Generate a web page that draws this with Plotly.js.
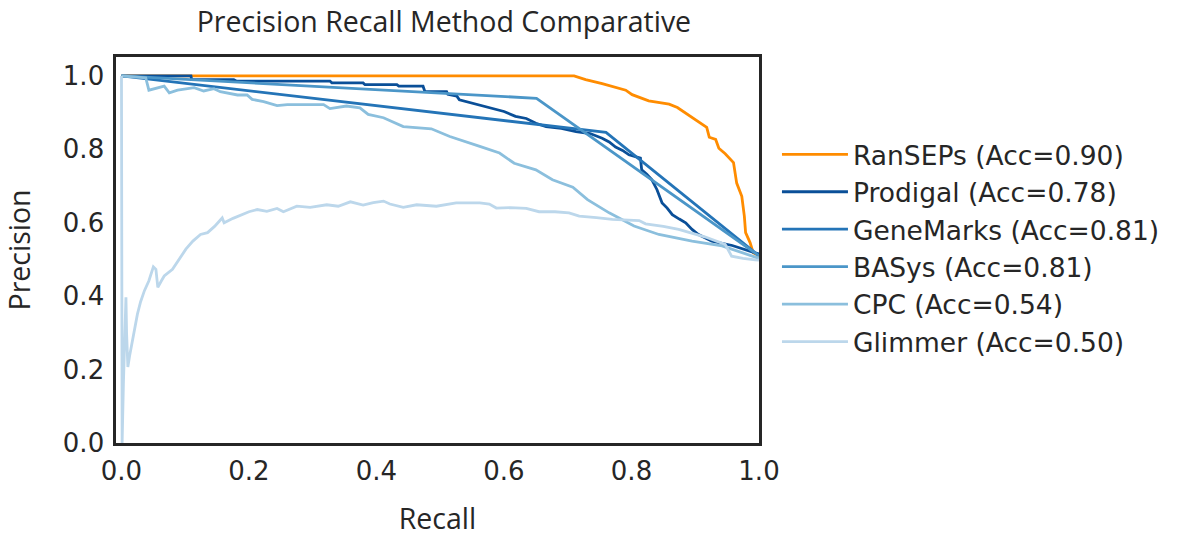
<!DOCTYPE html>
<html>
<head>
<meta charset="utf-8">
<script src="https://cdn.plot.ly/plotly-3.0.1.min.js"></script>
<style>html,body{margin:0;padding:0;background:#fff;}#chart{width:1179px;height:540px;}</style>
</head>
<body>
<div id="chart"></div>
<script>
// ---- data ----
const seriesNames = ["RanSEPs (Acc=0.90)", "Prodigal (Acc=0.78)", "GeneMarks (Acc=0.81)", "BASys (Acc=0.81)", "CPC (Acc=0.54)", "Glimmer (Acc=0.50)"];
const seriesColors = ["#ff8c00", "#0a4f98", "#2474b7", "#4b96c8", "#8bbfdd", "#bcd7eb"];

const ransepsRecall = [0, 0.71, 0.728, 0.754, 0.791, 0.801, 0.827, 0.859, 0.872, 0.890, 0.905, 0.918, 0.922, 0.932, 0.937, 0.947, 0.960, 0.965, 0.973, 0.977, 0.979, 0.986, 0.991, 1.0];
const ransepsPrecision = [1, 1, 0.990, 0.979, 0.961, 0.949, 0.932, 0.923, 0.914, 0.893, 0.875, 0.860, 0.833, 0.827, 0.803, 0.788, 0.764, 0.708, 0.672, 0.618, 0.573, 0.546, 0.518, 0.51];

const prodigalRecall = [0, 0.109, 0.11, 0.176, 0.18, 0.327, 0.33, 0.379, 0.382, 0.432, 0.435, 0.473, 0.476, 0.510, 0.512, 0.526, 0.53, 0.546, 0.565, 0.582, 0.600, 0.618, 0.635, 0.650, 0.666, 0.690, 0.713, 0.735, 0.754, 0.765, 0.775, 0.786, 0.796, 0.814, 0.816, 0.824, 0.832, 0.840, 0.848, 0.856, 0.864, 0.875, 0.885, 0.895, 0.905, 0.926, 0.958, 0.994, 1.0];
const prodigalPrecision = [1, 1, 0.99, 0.99, 0.986, 0.986, 0.981, 0.981, 0.976, 0.976, 0.972, 0.972, 0.957, 0.957, 0.950, 0.945, 0.935, 0.928, 0.920, 0.911, 0.903, 0.890, 0.884, 0.871, 0.862, 0.857, 0.848, 0.843, 0.830, 0.820, 0.806, 0.797, 0.785, 0.776, 0.744, 0.732, 0.717, 0.690, 0.654, 0.640, 0.622, 0.610, 0.600, 0.582, 0.568, 0.550, 0.538, 0.518, 0.515];

const genemarksRecall = [0, 0.76, 1.0];
const genemarksPrecision = [1, 0.846, 0.51];

const basysRecall = [0, 0.651, 1.0];
const basysPrecision = [1, 0.939, 0.51];

const cpcRecall = [0, 0.038, 0.043, 0.067, 0.075, 0.088, 0.114, 0.129, 0.145, 0.155, 0.182, 0.197, 0.205, 0.223, 0.244, 0.260, 0.317, 0.327, 0.353, 0.374, 0.387, 0.411, 0.442, 0.486, 0.515, 0.546, 0.562, 0.593, 0.616, 0.650, 0.676, 0.708, 0.731, 0.765, 0.804, 0.843, 0.895, 0.942, 1.0];
const cpcPrecision = [1, 0.995, 0.961, 0.972, 0.954, 0.961, 0.968, 0.959, 0.965, 0.957, 0.948, 0.948, 0.936, 0.930, 0.919, 0.922, 0.922, 0.911, 0.918, 0.913, 0.895, 0.886, 0.862, 0.856, 0.835, 0.818, 0.808, 0.790, 0.762, 0.744, 0.717, 0.697, 0.663, 0.627, 0.591, 0.568, 0.550, 0.537, 0.503];

const glimmerRecall = [0, 0.001, 0.003, 0.005, 0.007, 0.008, 0.010, 0.013, 0.017, 0.021, 0.025, 0.030, 0.036, 0.043, 0.050, 0.054, 0.057, 0.062, 0.067, 0.080, 0.090, 0.101, 0.112, 0.124, 0.135, 0.146, 0.158, 0.161, 0.175, 0.187, 0.200, 0.213, 0.228, 0.244, 0.254, 0.275, 0.296, 0.322, 0.340, 0.359, 0.379, 0.395, 0.411, 0.421, 0.442, 0.463, 0.494, 0.525, 0.546, 0.562, 0.577, 0.588, 0.610, 0.635, 0.655, 0.680, 0.702, 0.718, 0.745, 0.770, 0.812, 0.822, 0.850, 0.874, 0.916, 0.947, 0.957, 0.975, 0.994, 1.0];
const glimmerPrecision = [1, 0, 0.16, 0.30, 0.397, 0.30, 0.207, 0.24, 0.279, 0.31, 0.351, 0.385, 0.415, 0.442, 0.480, 0.473, 0.424, 0.44, 0.455, 0.473, 0.50, 0.528, 0.55, 0.568, 0.573, 0.59, 0.613, 0.600, 0.612, 0.621, 0.63, 0.636, 0.631, 0.639, 0.630, 0.645, 0.642, 0.649, 0.645, 0.657, 0.648, 0.655, 0.659, 0.651, 0.642, 0.649, 0.645, 0.654, 0.654, 0.654, 0.651, 0.640, 0.641, 0.639, 0.630, 0.630, 0.627, 0.618, 0.614, 0.609, 0.606, 0.597, 0.590, 0.582, 0.561, 0.541, 0.509, 0.503, 0.499, 0.498];

const xTickVals = [0, 0.2, 0.4, 0.6, 0.8, 1.0];
const xTickText = ["0.0", "0.2", "0.4", "0.6", "0.8", "1.0"];
const yTickVals = [0, 0.2, 0.4, 0.6, 0.8, 1.0];
const yTickText = ["0.0", "0.2", "0.4", "0.6", "0.8", "1.0"];

// ---- build traces ----
const xs = [ransepsRecall, prodigalRecall, genemarksRecall, basysRecall, cpcRecall, glimmerRecall];
const ys = [ransepsPrecision, prodigalPrecision, genemarksPrecision, basysPrecision, cpcPrecision, glimmerPrecision];
const traces = seriesNames.map((n, i) => ({
  type: "scatter", mode: "lines", name: n, x: xs[i], y: ys[i],
  line: {color: seriesColors[i], width: 2.8}
}));

const ink = "#262626";
const layout = {
  width: 1179, height: 540,
  margin: {l: 116, r: 420, t: 57, b: 97, autoexpand: false},
  paper_bgcolor: "#fff", plot_bgcolor: "#fff",
  font: {family: "DejaVu Sans", color: ink, size: 26},
  title: {text: "Precision Recall Method Comparative", font: {family: "Open Sans", size: 28.5, color: ink},
          x: 0.51, xref: "paper", y: 0.96, yref: "container", yanchor: "middle"},
  xaxis: {range: [-0.0086, 1.0], tickvals: xTickVals, ticktext: xTickText, showgrid: false, zeroline: false,
          showline: true, mirror: true, linecolor: ink, linewidth: 2.6, ticks: "outside", ticklen: 3, tickcolor: "rgba(0,0,0,0)",
          tickfont: {size: 26},
          title: {text: "Recall", font: {family: "Open Sans", size: 28.5, color: ink}, standoff: 25}},
  yaxis: {range: [0, 1.0515], tickvals: yTickVals, ticktext: yTickText, showgrid: false, zeroline: false,
          showline: true, mirror: true, linecolor: ink, linewidth: 2.6, ticks: "outside", ticklen: 4, tickcolor: "rgba(0,0,0,0)",
          tickfont: {size: 26},
          title: {text: "Precision", font: {family: "Open Sans", size: 28.5, color: ink}, standoff: 24}},
  legend: {xref: "container", x: 0.659, xanchor: "left", y: 0.505, yanchor: "middle", font: {size: 26.5, color: ink},
           bgcolor: "rgba(0,0,0,0)", tracegroupgap: 0, itemwidth: 66},
  showlegend: true
};
Plotly.newPlot("chart", traces, layout, {displayModeBar: false, staticPlot: true});
</script>
</body>
</html>
